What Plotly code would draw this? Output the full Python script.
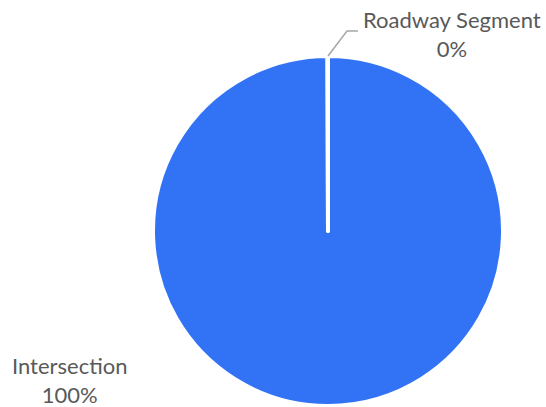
import plotly.graph_objects as go

categories = ["Intersection", "Roadway Segment"]
values = [2150, 1]
colors = ["#3273F6", "#3273F6"]

total = sum(values)
pcts = [round(v / total * 100) for v in values]

W, H = 546, 407
cx, cy, r = 328, 231, 175

fig = go.Figure(go.Pie(
    labels=categories,
    values=values,
    sort=False,
    direction="clockwise",
    rotation=0,
    textinfo="none",
    hoverinfo="label+percent",
    marker=dict(colors=colors, line=dict(color="white", width=4)),
    domain=dict(x=[(cx - r) / W, (cx + r) / W], y=[1 - (cy + r) / H, 1 - (cy - r) / H]),
    showlegend=False,
))

font = dict(family="Lato, Carlito, Calibri, sans-serif", size=22, color="#595959")
label_pos = {
    "Intersection": (69 / W, 1 - 380 / H),
    "Roadway Segment": (452 / W, 1 - 34 / H),
}
for cat, p in zip(categories, pcts):
    x, y = label_pos[cat]
    fig.add_annotation(x=x, y=y, xref="paper", yref="paper", text=f"{cat}<br>{p}%",
                       showarrow=False, font=font, align="center", xanchor="center", yanchor="middle")

# leader line for the small slice
fig.add_shape(type="path", xref="paper", yref="paper",
              path=f"M {328/W} {1-56/H} L {347/W} {1-31/H} L {358/W} {1-31/H}",
              line=dict(color="#A6A6A6", width=1.5))

fig.update_layout(width=W, height=H, margin=dict(l=0, r=0, t=0, b=0),
                  paper_bgcolor="white", plot_bgcolor="white")
fig.write_html("out.html", config={"displayModeBar": False},
               post_script="document.body.style.margin='0';document.body.style.overflow='hidden';")
